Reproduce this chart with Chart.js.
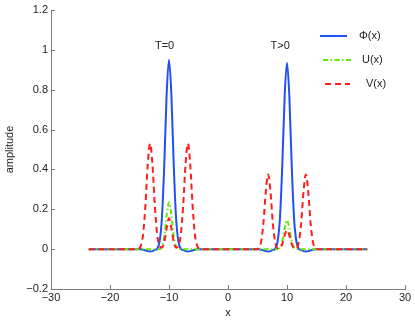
<!DOCTYPE html>
<html lang="en">
<head>
    <meta charset="UTF-8">
    <title>amplitude</title>
    <script src="https://cdn.jsdelivr.net/npm/chart.js"></script>
    <style>
        html, body { margin: 0; padding: 0; background: #fff; }
        #chart { display: block; }
    </style>
</head>
<body>
    <canvas id="chart" width="415" height="322"></canvas>
    <script>
        // sample positions (dense around the pulses, sparse where everything is flat)
        const xValues = [
            -23.6, -20, -17.2, -16,
            -15.6, -15.2, -14.8, -14.4, -14.0, -13.6, -13.2, -12.8, -12.4, -12.0, -11.6, -11.2, -10.8, -10.4, -10.0,
            -9.6, -9.2, -8.8, -8.4, -8.0, -7.6, -7.2, -6.8, -6.4, -6.0, -5.6, -5.2, -4.8, -4.4,
            -3.2, -1.6, 0, 1.6, 3.2,
            4.4, 4.8, 5.2, 5.6, 6.0, 6.4, 6.8, 7.2, 7.6, 8.0, 8.4, 8.8, 9.2, 9.6, 10.0,
            10.4, 10.8, 11.2, 11.6, 12.0, 12.4, 12.8, 13.2, 13.6, 14.0, 14.4, 14.8, 15.2, 15.6,
            16, 17.2, 20, 23.6
        ];
        const phiValues = [
            0, 0, 0, 0,
            0, 0, -0.001, -0.003, -0.006, -0.010, -0.012, -0.010, -0.004, 0.002, 0.038, 0.156, 0.425, 0.777, 0.95,
            0.777, 0.425, 0.156, 0.038, 0.002, -0.004, -0.010, -0.012, -0.010, -0.006, -0.003, -0.001, 0, 0,
            0, 0, 0, 0, 0,
            0, 0, -0.001, -0.003, -0.006, -0.010, -0.012, -0.010, -0.004, 0.002, 0.037, 0.153, 0.418, 0.765, 0.935,
            0.765, 0.418, 0.153, 0.037, 0.002, -0.004, -0.010, -0.012, -0.010, -0.006, -0.003, -0.001, 0, 0,
            0, 0, 0, 0
        ];
        const uValues = [
            0, 0, 0, 0,
            0, 0, 0, 0, 0, 0, 0, 0, 0, 0, 0.001, 0.013, 0.065, 0.171, 0.235,
            0.171, 0.065, 0.013, 0.001, 0, 0, 0, 0, 0, 0, 0, 0, 0, 0,
            0, 0, 0, 0, 0,
            0, 0, 0, 0, 0, 0, 0, 0, 0, 0, 0.001, 0.008, 0.040, 0.105, 0.145,
            0.105, 0.040, 0.008, 0.001, 0, 0, 0, 0, 0, 0, 0, 0, 0, 0,
            0, 0, 0, 0
        ];
        const vValues = [
            0, 0, 0, 0,
            0, 0.002, 0.015, 0.072, 0.218, 0.424, 0.53, 0.424, 0.218, 0.072, 0.015, 0.008, 0.035, 0.105, 0.155,
            0.105, 0.035, 0.008, 0.015, 0.072, 0.218, 0.424, 0.53, 0.424, 0.218, 0.072, 0.015, 0.002, 0,
            0, 0, 0, 0, 0,
            0, 0, 0.005, 0.035, 0.130, 0.288, 0.375, 0.288, 0.130, 0.035, 0.005, 0.005, 0.026, 0.069, 0.095,
            0.069, 0.026, 0.005, 0.005, 0.035, 0.130, 0.288, 0.375, 0.288, 0.130, 0.035, 0.005, 0, 0,
            0, 0, 0, 0
        ];
        const seriesLabels = ["\u03A6(x)", "U(x)", "V(x)"];
        const xTicks = [-30, -20, -10, 0, 10, 20, 30];
        const yTicks = [-0.2, 0, 0.2, 0.4, 0.6, 0.8, 1, 1.2];
        const noteText = ["T=0", "T>0"];
        const noteX = [-10.75, 8.85];
        const noteY = [1.02, 1.02];

        const FONT = "'Liberation Sans', Arial, sans-serif";
        const TEXT = "#1c1c1c";
        const AXIS = "#7a7a7a";
        const minus = (s) => String(s).replace("-", "\u2212");
        const toPoints = (ys) => xValues.map((x, i) => ({ x, y: ys[i] }));

        // MATLAB style ticks pointing into the axes, plus the two text notes
        const axesExtras = {
            id: "axesExtras",
            afterDraw(chart) {
                const { ctx, chartArea: a, scales: { x, y } } = chart;
                ctx.save();
                ctx.strokeStyle = AXIS;
                ctx.lineWidth = 1;
                ctx.beginPath();
                xTicks.forEach(t => {
                    const px = Math.round(x.getPixelForValue(t)) + 0.5;
                    ctx.moveTo(px, a.bottom);
                    ctx.lineTo(px, a.bottom - 4);
                });
                yTicks.forEach(t => {
                    const py = Math.round(y.getPixelForValue(t)) + 0.5;
                    ctx.moveTo(a.left, py);
                    ctx.lineTo(a.left + 4, py);
                });
                ctx.stroke();

                ctx.fillStyle = TEXT;
                ctx.font = "11px " + FONT;
                ctx.textAlign = "center";
                ctx.textBaseline = "middle";
                noteText.forEach((t, i) => {
                    ctx.fillText(t, x.getPixelForValue(noteX[i]), y.getPixelForValue(noteY[i]));
                });
                ctx.restore();
            }
        };

        // legend box in the top right corner, no frame
        const legendLineX = [[320, 347], [323, 352], [325, 350]];
        const legendTextX = [359, 362, 366];
        const legendRowY = [36, 60, 84];
        const cornerLegend = {
            id: "cornerLegend",
            afterDraw(chart) {
                const ctx = chart.ctx;
                ctx.save();
                chart.data.datasets.forEach((ds, i) => {
                    ctx.strokeStyle = ds.borderColor;
                    ctx.lineWidth = ds.borderWidth;
                    ctx.setLineDash(ds.borderDash || []);
                    ctx.beginPath();
                    ctx.moveTo(legendLineX[i][0], legendRowY[i]);
                    ctx.lineTo(legendLineX[i][1], legendRowY[i]);
                    ctx.stroke();
                    ctx.setLineDash([]);
                    ctx.fillStyle = TEXT;
                    ctx.font = "11px " + FONT;
                    ctx.textAlign = "left";
                    ctx.textBaseline = "middle";
                    ctx.fillText(ds.label, legendTextX[i], legendRowY[i]);
                });
                ctx.restore();
            }
        };

        new Chart(document.getElementById("chart"), {
            type: "line",
            data: {
                datasets: [
                    { label: seriesLabels[0], data: toPoints(phiValues), borderColor: "#2150f7", borderWidth: 2, order: 3 },
                    { label: seriesLabels[1], data: toPoints(uValues), borderColor: "#66e800", borderWidth: 2, borderDash: [5, 2.5, 1.5, 2.5], order: 2 },
                    { label: seriesLabels[2], data: toPoints(vValues), borderColor: "#ff1c1c", borderWidth: 2, borderDash: [6, 4], order: 1 }
                ]
            },
            options: {
                responsive: false,
                animation: false,
                devicePixelRatio: 1,
                layout: { padding: { top: 10, right: 10, left: 0, bottom: 0 } },
                elements: {
                    point: { radius: 0 },
                    line: { cubicInterpolationMode: "monotone", fill: false }
                },
                plugins: { legend: { display: false }, tooltip: { enabled: false } },
                scales: {
                    x: {
                        type: "linear",
                        min: -30,
                        max: 30,
                        afterBuildTicks: (s) => { s.ticks = xTicks.map(v => ({ value: v })); },
                        afterFit: (s) => { s.height = 33; },
                        grid: { display: false, drawTicks: false },
                        border: { display: true, color: AXIS, width: 1 },
                        ticks: {
                            color: TEXT, padding: 2, maxRotation: 0,
                            font: { family: FONT, size: 11 },
                            callback: (v) => minus(v)
                        },
                        title: {
                            display: true, text: "x", color: TEXT,
                            font: { family: FONT, size: 11 },
                            padding: { top: 0, bottom: 2 }
                        }
                    },
                    y: {
                        min: -0.2,
                        max: 1.2,
                        afterBuildTicks: (s) => { s.ticks = yTicks.map(v => ({ value: v })); },
                        afterFit: (s) => { s.width = 51; },
                        grid: { display: false, drawTicks: false },
                        border: { display: true, color: AXIS, width: 1 },
                        ticks: {
                            color: TEXT, padding: 3,
                            font: { family: FONT, size: 11 },
                            callback: (v) => minus(Number(Number(v).toFixed(1)))
                        },
                        title: {
                            display: true, text: "amplitude", color: TEXT,
                            font: { family: FONT, size: 11 },
                            padding: { top: 3, bottom: 0 }
                        }
                    }
                }
            },
            plugins: [axesExtras, cornerLegend]
        });
    </script>
</body>
</html>
